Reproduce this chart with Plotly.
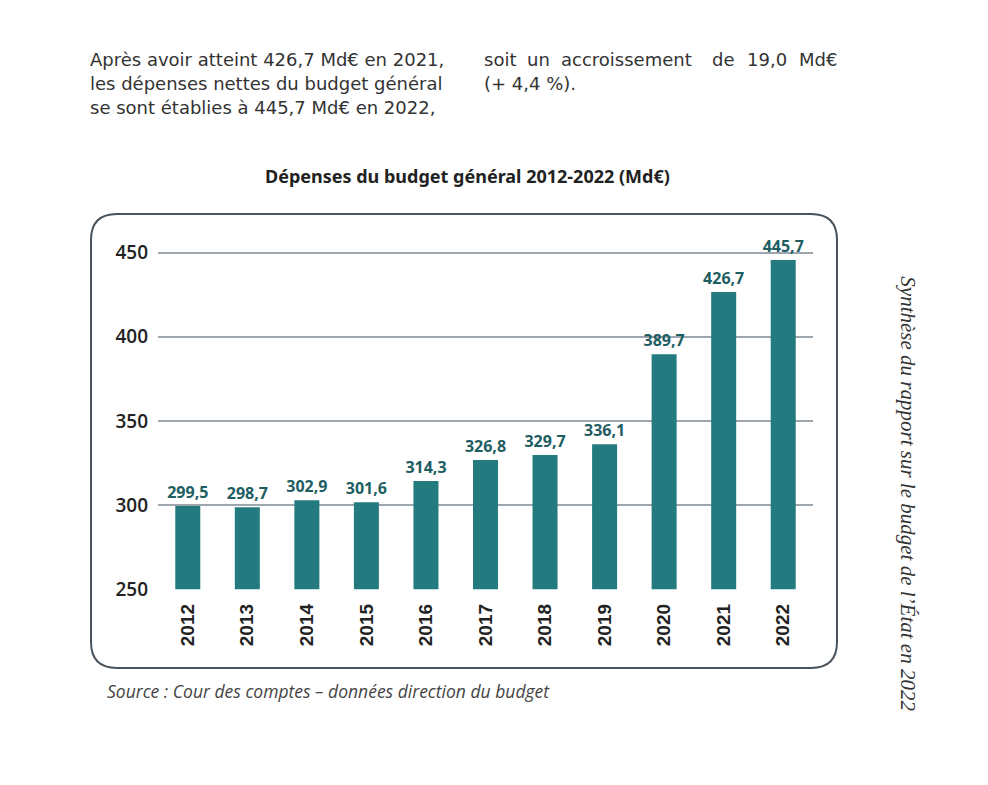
import plotly.graph_objects as go

# data
years = ['2012', '2013', '2014', '2015', '2016', '2017', '2018', '2019', '2020', '2021', '2022']
depenses = [299.5, 298.7, 302.9, 301.6, 314.3, 326.8, 329.7, 336.1, 389.7, 426.7, 445.7]
y_ticks = [250, 300, 350, 400, 450]

intro_left = ['Après avoir atteint 426,7 Md€ en 2021,',
              'les dépenses nettes du budget général',
              'se sont établies à 445,7 Md€ en 2022,']
intro_right_words = ['soit', 'un', 'accroissement', 'de', '19,0', 'Md€']
intro_right_end = '(+ 4,4 %).'
chart_title = 'Dépenses du budget général 2012-2022 (Md€)'
source_txt = 'Source : Cour des comptes – données direction du budget'
side_txt = 'Synthèse du rapport sur le budget de l’État en 2022'

# page body keeps an 8px margin, so the figure is sized to fit inside it
OFF = 8
W, H = 988 - 2 * OFF, 785 - 2 * OFF
TEAL = '#237b80'
LABEL = '#1e5d61'
TXT = '#333333'


def px(x):
    return (x - OFF) / W


def py(y):
    # vertical placement measured on the rendered page
    return 1 - ((y - 8.7) / 0.985) / H


fig = go.Figure(go.Bar(
    x=years, y=depenses,
    marker=dict(color=TEAL, line=dict(width=0)),
    texttemplate='%{y:.1f}', textposition='outside', cliponaxis=False,
    constraintext='none',
    textfont=dict(family='Open Sans', size=16, color=LABEL, weight='bold'),
))

# rounded frame around the chart
x0, x1, y0, y1 = 91, 837, 215, 670
r = 26
path = (f'M {px(x0 + r)},{py(y0)} L {px(x1 - r)},{py(y0)} '
        f'Q {px(x1)},{py(y0)} {px(x1)},{py(y0 + r)} '
        f'L {px(x1)},{py(y1 - r)} Q {px(x1)},{py(y1)} {px(x1 - r)},{py(y1)} '
        f'L {px(x0 + r)},{py(y1)} Q {px(x0)},{py(y1)} {px(x0)},{py(y1 - r)} '
        f'L {px(x0)},{py(y0 + r)} Q {px(x0)},{py(y0)} {px(x0 + r)},{py(y0)} Z')

annots = []
for i, line in enumerate(intro_left):
    annots.append(dict(x=px(88), y=py(60 + 24 * i), text=line, xanchor='left', yanchor='middle',
                       font=dict(family='DejaVu Sans', size=18, color=TXT)))
# right column is justified: one annotation per word
word_x = [482, 525, 559, 710, 745, 797]
for w, xw in zip(intro_right_words, word_x):
    annots.append(dict(x=px(xw), y=py(60), text=w, xanchor='left', yanchor='middle',
                       font=dict(family='DejaVu Sans', size=18, color=TXT)))
annots.append(dict(x=px(482), y=py(84), text=intro_right_end, xanchor='left', yanchor='middle',
                   font=dict(family='DejaVu Sans', size=18, color=TXT)))
annots.append(dict(x=px(467), y=py(177), text=chart_title, xanchor='center', yanchor='middle',
                   font=dict(family='Noto Sans', size=18, color='#222222', weight='bold')))
annots.append(dict(x=px(105), y=py(693), text=source_txt, xanchor='left', yanchor='middle',
                   font=dict(family='Open Sans', size=17.5, color='#444444', style='italic')))
annots.append(dict(x=px(908), y=py(495), text=side_txt, textangle=90, xanchor='center', yanchor='middle',
                   font=dict(family='Liberation Serif', size=21, color=TXT, style='italic')))
for a in annots:
    a.update(xref='paper', yref='paper', showarrow=False)

fig.update_layout(
    width=W, height=H,
    margin=dict(l=0, r=0, t=0, b=0),
    paper_bgcolor='white', plot_bgcolor='white',
    separators=', ',
    showlegend=False,
    bargap=0.58,
    shapes=[dict(type='path', path=path, xref='paper', yref='paper',
                 line=dict(color='#4a545e', width=2), fillcolor='rgba(0,0,0,0)', layer='below')],
    annotations=annots,
    xaxis=dict(domain=[px(158), px(813)], tickangle=-90, ticks='', ticklabelstandoff=10,
               tickfont=dict(family='Liberation Sans', size=19, color='#222222', weight='bold'),
               showgrid=False, showline=False, fixedrange=True),
    yaxis=dict(domain=[py(591), py(237)], range=[250, 460], tickvals=y_ticks,
               showgrid=True, gridcolor='#9ba6ae', gridwidth=1.5, zeroline=False,
               showline=False, ticks='', ticklabelstandoff=9,
               tickfont=dict(family='Open Sans', size=19, color='#222222', weight=600)),
)

fig.write_html('out.html')
